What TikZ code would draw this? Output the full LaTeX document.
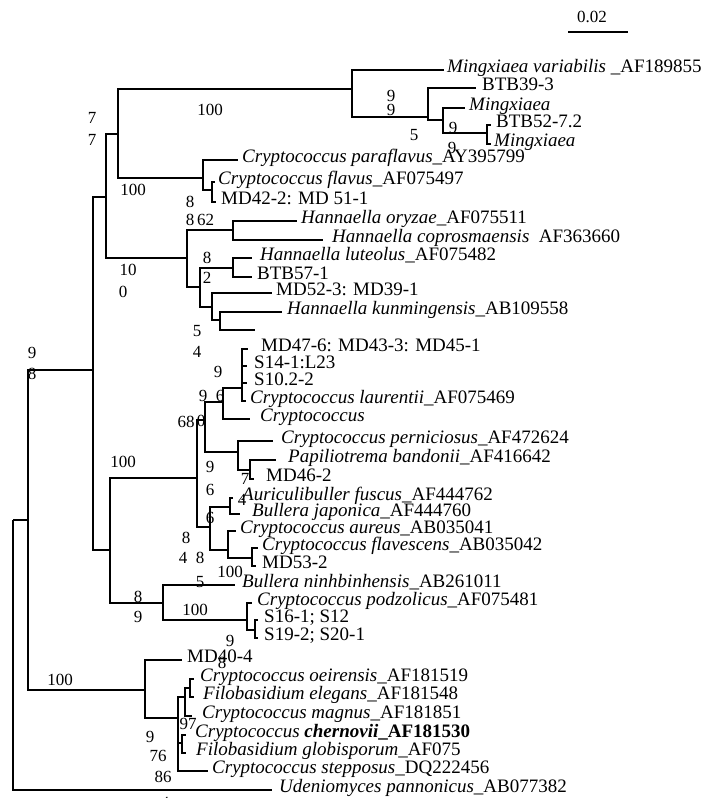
\documentclass[tikz,border=0pt]{standalone}
\usepackage{fontspec}
\setmainfont{Liberation Serif}

\begin{document}
\begin{tikzpicture}[x=1pt, y=-1pt,
  leaf/.style={anchor=mid west, inner xsep=3pt, inner ysep=0pt, font=\fontsize{19}{21}\selectfont},
  bs/.style={inner sep=0pt, font=\fontsize{17}{19}\selectfont},
  br/.style={draw, line width=2.5pt}]
\useasboundingbox (0,0) rectangle (706,798);
\fill[white] (0,0) rectangle (706,798);

% leaves
\node[leaf] (mvar) at (444,70) {\textit{Mingxiaea variabilis} \_AF189855};
\node[leaf, inner xsep=6pt] (btb39) at (476,88) {BTB39-3};
\node[leaf, inner xsep=4pt] (mingA) at (465,108) {\textit{Mingxiaea}};
\node[leaf, inner xsep=5pt] (btb52) at (491,125) {BTB52-7.2};
\node[leaf] (mingB) at (491,144) {\textit{Mingxiaea}};
\node[leaf, inner xsep=4pt] (cparf) at (238,160) {\textit{Cryptococcus paraflavus}\_AY395799};
\node[leaf] (cflav) at (215,182) {\textit{Cryptococcus flavus}\_AF075497};
\node[leaf, inner xsep=5pt] (md42) at (216,202) {MD42-2: MD 51-1};
\node[leaf, inner xsep=4pt] (hory) at (297,221) {\textit{Hannaella oryzae}\_AF075511};
\node[leaf, inner xsep=9pt] (hcop) at (323,240) {\textit{Hannaella coprosmaensis}~~AF363660};
\node[leaf, inner xsep=8pt] (hlut) at (252,258) {\textit{Hannaella luteolus}\_AF075482};
\node[leaf, inner xsep=5pt] (btb57) at (252,277) {BTB57-1};
\node[leaf, inner xsep=4pt] (md52) at (272,293) {MD52-3: MD39-1};
\node[leaf, inner xsep=5pt] (hkun) at (282,312) {\textit{Hannaella kunmingensis}\_AB109558};
\coordinate (hx) at (255,330);
\node[leaf, inner xsep=13pt] (md47) at (248,349) {MD47-6: MD43-3: MD45-1};
\node[leaf, inner xsep=7pt] (s14) at (247,366) {S14-1:L23};
\node[leaf, inner xsep=7pt] (s10) at (247,383) {S10.2-2};
\node[leaf, inner xsep=4pt] (clau) at (246,401) {\textit{Cryptococcus laurentii}\_AF075469};
\node[leaf, inner xsep=10pt] (crypt) at (250,419) {\textit{Cryptococcus}};
\node[leaf, inner xsep=8pt] (cpern) at (273,441) {\textit{Cryptococcus perniciosus}\_AF472624};
\node[leaf, inner xsep=12pt] (pban) at (276,460) {\textit{Papiliotrema bandonii}\_AF416642};
\node[leaf, inner xsep=12pt] (md46) at (254,479) {MD46-2};
\node[leaf, inner xsep=9pt] (afus) at (233,498) {\textit{Auriculibuller fuscus}\_AF444762};
\node[leaf, inner xsep=12pt] (bjap) at (240,514) {\textit{Bullera japonica}\_AF444760};
\node[leaf, inner xsep=4pt] (caur) at (236,531) {\textit{Cryptococcus aureus}\_AB035041};
\node[leaf, inner xsep=4pt] (cfls) at (258,548) {\textit{Cryptococcus flavescens}\_AB035042};
\node[leaf, inner xsep=6pt] (md53) at (256,566) {MD53-2};
\node[leaf, inner xsep=7pt] (bnin) at (235,585) {\textit{Bullera ninhbinhensis}\_AB261011};
\node[leaf, inner xsep=5pt] (cpod) at (252,603) {\textit{Cryptococcus podzolicus}\_AF075481};
\node[leaf, inner xsep=6pt] (s16) at (258,620) {S16-1; S12};
\node[leaf, inner xsep=6pt] (s19) at (258,638) {S19-2; S20-1};
\node[leaf, inner xsep=5pt] (md40) at (182,660) {MD40-4};
\node[leaf, inner xsep=6pt] (coei) at (194,679) {\textit{Cryptococcus oeirensis}\_AF181519};
\node[leaf, inner xsep=9pt] (fele) at (194,697) {\textit{Filobasidium elegans}\_AF181548};
\node[leaf, inner xsep=10pt] (cmag) at (192,716) {\textit{Cryptococcus magnus}\_AF181851};
\node[leaf, inner xsep=9pt] (cche) at (186,735) {\textit{Cryptococcus \textbf{chernovii}}\textbf{\_AF181530}};
\node[leaf, inner xsep=10pt] (fglo) at (186,753) {\textit{Filobasidium globisporum}\_AF075};
\node[leaf, inner xsep=4pt] (cste) at (208,771) {\textit{Cryptococcus stepposus}\_DQ222456};
\node[leaf, inner xsep=7pt] (uden) at (272,790) {\textit{Udeniomyces pannonicus}\_AB077382};

% internal nodes
\coordinate (root) at (13,520);
\coordinate (nA) at (28,520);
\coordinate (nB) at (93,370);
\coordinate (nC) at (106,197);
\coordinate (nD) at (118,134);
\coordinate (ming1) at (352,89);
\coordinate (ming2) at (428,117);
\coordinate (ming3) at (443,120);
\coordinate (ming4) at (487,133);
\coordinate (flav1) at (203,178);
\coordinate (flav2) at (212,190);
\coordinate (hann1) at (187,258);
\coordinate (hann2) at (233,230);
\coordinate (hann3) at (200,287);
\coordinate (hann4) at (233,268);
\coordinate (hann5) at (212,307);
\coordinate (hann6) at (220,320);
\coordinate (mid1) at (110,550);
\coordinate (cry1) at (197,478);
\coordinate (cry2) at (205,420);
\coordinate (cry3) at (223,402);
\coordinate (cry4) at (242,388);
\coordinate (cry5) at (238,452);
\coordinate (cry6) at (250,470);
\coordinate (cry7) at (210,527);
\coordinate (cry8) at (230,507);
\coordinate (cry9) at (228,550);
\coordinate (cry10) at (252,558);
\coordinate (bul1) at (163,603);
\coordinate (bul2) at (247,620);
\coordinate (bul3) at (255,630);
\coordinate (filo1) at (145,690);
\coordinate (filo2) at (178,718);
\coordinate (filo3) at (185,697);
\coordinate (filo4) at (190,688);
\coordinate (filo5) at (182,743);

% branches
\draw[br] (root) |- (nA) (root) |- (uden.mid west)
  (nA) |- (nB) (nA) |- (filo1)
  (nB) |- (nC) (nB) |- (mid1)
  (nC) |- (nD) (nC) |- (hann1)
  (nD) |- (ming1) (nD) |- (flav1)
  (ming1) |- (mvar.mid west) (ming1) |- (ming2)
  (ming2) |- (btb39.mid west) (ming2) |- (ming3)
  (ming3) |- (mingA.mid west) (ming3) |- (ming4)
  (ming4) |- (btb52.mid west) (ming4) |- (mingB.mid west)
  (flav1) |- (cparf.mid west) (flav1) |- (flav2)
  (flav2) |- (cflav.mid west) (flav2) |- (md42.mid west)
  (hann1) |- (hann2) (hann1) |- (hann3)
  (hann2) |- (hory.mid west) (hann2) |- (hcop.mid west)
  (hann3) |- (hann4) (hann3) |- (hann5)
  (hann4) |- (hlut.mid west) (hann4) |- (btb57.mid west)
  (hann5) |- (md52.mid west) (hann5) |- (hann6)
  (hann6) |- (hkun.mid west) (hann6) |- (hx)
  (mid1) |- (cry1) (mid1) |- (bul1)
  (cry1) |- (cry2) (cry1) |- (cry7)
  (cry2) |- (cry3) (cry2) |- (cry5)
  (cry3) |- (cry4) (cry3) |- (crypt.mid west)
  (cry4) |- (md47.mid west) (cry4) |- (s14.mid west)
  (cry4) |- (s10.mid west) (cry4) |- (clau.mid west)
  (cry5) |- (cpern.mid west) (cry5) |- (cry6)
  (cry6) |- (pban.mid west) (cry6) |- (md46.mid west)
  (cry7) |- (cry8) (cry7) |- (cry9)
  (cry8) |- (afus.mid west) (cry8) |- (bjap.mid west)
  (cry9) |- (caur.mid west) (cry9) |- (cry10)
  (cry10) |- (cfls.mid west) (cry10) |- (md53.mid west)
  (bul1) |- (bnin.mid west) (bul1) |- (bul2)
  (bul2) |- (cpod.mid west) (bul2) |- (bul3)
  (bul3) |- (s16.mid west) (bul3) |- (s19.mid west)
  (filo1) |- (md40.mid west) (filo1) |- (filo2)
  (filo2) |- (filo3) (filo2) |- (filo5) (filo2) |- (cste.mid west)
  (filo3) |- (filo4) (filo3) |- (cmag.mid west)
  (filo4) |- (coei.mid west) (filo4) |- (fele.mid west)
  (filo5) |- (cche.mid west) (filo5) |- (fglo.mid west);

% bootstrap values
\node[bs] (b1) at (32,353) {9};
\node[bs] (b2) at (32,374) {8};
\node[bs] (b3) at (92,118) {7};
\node[bs] (b4) at (92,140) {7};
\node[bs] (b5) at (210,110) {100};
\node[bs] (b6) at (133,190) {100};
\node[bs] (b7) at (391,96) {9};
\node[bs] (b8) at (391,110) {9};
\node[bs] (b9) at (414,135) {5};
\node[bs] (b10) at (453,128) {9};
\node[bs] (b11) at (452,148) {9};
\node[bs] (b12) at (190,202) {8};
\node[bs] (b13) at (200,220) {8\,62};
\node[bs] (b14) at (207,258) {8};
\node[bs] (b15) at (207,278) {2};
\node[bs] (b16) at (128,270) {10};
\node[bs] (b17) at (123,292) {0};
\node[bs] (b18) at (197,331) {5};
\node[bs] (b19) at (197,352) {4};
\node[bs] (b20) at (218,372) {9};
\node[bs] (b21) at (203,396) {9};
\node[bs] (b22) at (220,396) {6};
\node[bs] (b23) at (186,422) {68};
\node[bs] (b24) at (201,421) {0};
\node[bs] (b25) at (123,462) {100};
\node[bs] (b26) at (210,467) {9};
\node[bs] (b27) at (245,479) {7};
\node[bs] (b28) at (210,490) {6};
\node[bs] (b29) at (242,500) {4};
\node[bs] (b30) at (210,518) {6};
\node[bs] (b31) at (186,538) {8};
\node[bs] (b32) at (183,558) {4};
\node[bs] (b33) at (200,558) {8};
\node[bs] (b34) at (230,572) {100};
\node[bs] (b35) at (200,582) {5};
\node[bs] (b36) at (138,597) {8};
\node[bs] (b37) at (138,617) {9};
\node[bs] (b38) at (195,610) {100};
\node[bs] (b39) at (230,641) {9};
\node[bs] (b40) at (222,663) {8};
\node[bs] (b41) at (60,680) {100};
\node[bs] (b42) at (188,724) {97};
\node[bs] (b43) at (150,737) {9};
\node[bs] (b44) at (158,756) {76};
\node[bs] (b45) at (163,777) {86};
\node[bs] (b46) at (165,803) {4};

% scale bar
\node[bs] (sbar) at (592,17) {0.02};
\coordinate (sbl) at (568,32);
\coordinate (sbr) at (628,32);
\draw[br] (sbl) -- (sbr);
\end{tikzpicture}
\end{document}
